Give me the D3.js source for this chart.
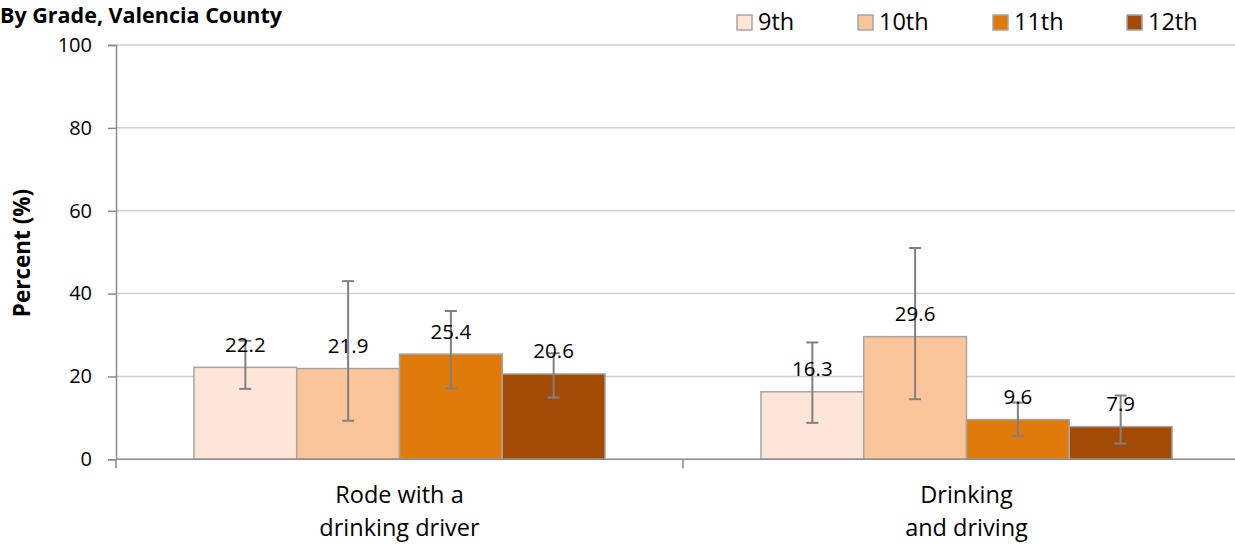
<!DOCTYPE html>
<html><head><meta charset="utf-8">
<script src="https://cdn.jsdelivr.net/npm/d3@7"></script>
<style>
html,body{margin:0;padding:0;background:#fff;overflow:hidden;}
text{font-family:"Open Sans",sans-serif;fill:#000;}
</style></head>
<body><svg id="c" width="1235" height="546"></svg>
<script>
const categories = [["Rode with a","drinking driver"],["Drinking","and driving"]];
const grades = ["9th","10th","11th","12th"];
const values = [[22.2,21.9,25.4,20.6],[16.3,29.6,9.6,7.9]];
const errLow = [[17.0,9.3,17.1,14.9],[8.8,14.5,5.6,3.8]];
const errHigh = [[28.6,43.0,35.8,25.6],[28.2,51.0,13.7,15.4]];
const yTicks = [0,20,40,60,80,100];
const colors = ["#FDE6D8","#FBC59B","#E07B0B","#A24B07"];
const chartTitle = "By Grade, Valencia County";
const yTitle = "Percent (%)";

(function(){
const svg = d3.select("#c");
const pL = 116, pR = 1250, pT = 45, pB = 459.3;
const y = d3.scaleLinear().domain([0,100]).range([pB, pT]);
const x0 = d3.scaleBand().domain(d3.range(categories.length)).range([pL, pR]).padding(0);
const bw = x0.bandwidth();
const gpad = bw * (1 - 0.725) / 2;
const x1 = d3.scaleBand().domain(grades).range([gpad, bw - gpad]).padding(0);

// gridlines
svg.append("g").selectAll("line").data(yTicks.filter(d=>d>0)).join("line")
  .attr("x1", pL).attr("x2", pR).attr("y1", d=>y(d)).attr("y2", d=>y(d))
  .attr("stroke","#D0D0D0").attr("stroke-width",1.5);

// y axis
const yAxis = d3.axisLeft(y).tickValues(yTicks).tickSize(8).tickPadding(16);
const ya = svg.append("g").attr("transform",`translate(${pL},0)`).call(yAxis);
ya.select(".domain").attr("stroke","#8C8C8C").attr("stroke-width",1.5);
ya.selectAll(".tick line").attr("stroke","#8C8C8C").attr("stroke-width",1.5);
ya.selectAll(".tick text").attr("font-size",20).attr("font-family","Open Sans").attr("fill","#000");

// bars
const groups = svg.append("g").selectAll("g").data(values).join("g")
  .attr("transform",(d,i)=>`translate(${x0(i)},0)`);
groups.selectAll("rect").data(d=>d).join("rect")
  .attr("x",(d,j)=>x1(grades[j])).attr("width",x1.bandwidth())
  .attr("y",d=>y(d)).attr("height",d=>y(0)-y(d))
  .attr("fill",(d,j)=>colors[j]).attr("stroke","#A6A6A6").attr("stroke-width",1.5);

// x axis
const xAxisG = svg.append("g");
xAxisG.append("line").attr("x1",pL).attr("x2",pR).attr("y1",y(0)).attr("y2",y(0))
  .attr("stroke","#8C8C8C").attr("stroke-width",1.5);
xAxisG.selectAll("line.t").data(d3.range(categories.length+1)).join("line").attr("class","t")
  .attr("x1",i=>pL+i*bw).attr("x2",i=>pL+i*bw).attr("y1",y(0)).attr("y2",y(0)+9)
  .attr("stroke","#8C8C8C").attr("stroke-width",1.5);
categories.forEach((lines,i)=>{
  const t = svg.append("text").attr("text-anchor","middle").attr("font-size",23.5);
  lines.forEach((ln,k)=>{
    t.append("tspan").attr("x",x0(i)+bw/2).attr("y",503+k*33).text(ln);
  });
});

// error bars
values.forEach((vals,i)=>{
  vals.forEach((v,j)=>{
    const cx = x0(i)+x1(grades[j])+x1.bandwidth()/2;
    const g = svg.append("g").attr("stroke","#808080").attr("stroke-width",2);
    g.append("line").attr("x1",cx).attr("x2",cx).attr("y1",y(errLow[i][j])).attr("y2",y(errHigh[i][j]));
    g.append("line").attr("x1",cx-6).attr("x2",cx+6).attr("y1",y(errLow[i][j])).attr("y2",y(errLow[i][j]));
    g.append("line").attr("x1",cx-6).attr("x2",cx+6).attr("y1",y(errHigh[i][j])).attr("y2",y(errHigh[i][j]));
  });
});

// data labels
values.forEach((vals,i)=>{
  vals.forEach((v,j)=>{
    const cx = x0(i)+x1(grades[j])+x1.bandwidth()/2;
    svg.append("text").attr("x",cx).attr("y",y(v)-15.5).attr("text-anchor","middle")
      .attr("font-size",20.5).text(v.toFixed(1));
  });
});

// title
svg.append("text").attr("x",0).attr("y",23).attr("font-size",21.5).attr("font-weight","bold").text(chartTitle);

// y title
svg.append("text").attr("transform","translate(30,253) rotate(-90)").attr("text-anchor","middle")
  .attr("font-size",22.5).attr("font-weight","bold").text(yTitle);

// legend
const legX = [736, 857, 992, 1126];
const leg = svg.append("g").selectAll("g").data(grades).join("g")
  .attr("transform",(d,j)=>`translate(${legX[j]},0)`);
leg.append("rect").attr("x",1).attr("y",15).attr("width",15).attr("height",15)
  .attr("fill",(d,j)=>colors[j]).attr("stroke","#A6A6A6").attr("stroke-width",1.5);
leg.append("text").attr("x",22).attr("y",30).attr("font-size",23.5).text(d=>d);
})();
</script></body></html>
